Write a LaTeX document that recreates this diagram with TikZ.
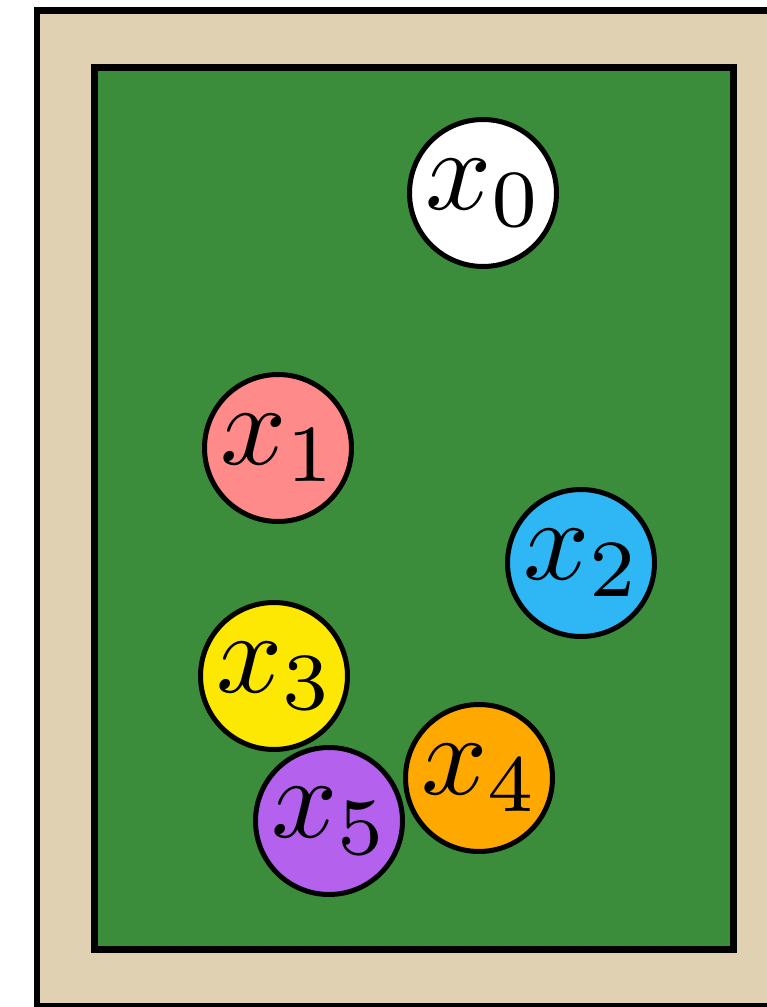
\documentclass[tikz,border=0pt]{standalone}
\usepackage{graphicx}
\usepackage{tikz}
\usepackage{xcolor}
\definecolor{Table_Rail}{HTML}{E0D1B3}
\definecolor{Table_Felt}{HTML}{3B8C3B}
\definecolor{Ball_Pink}{HTML}{FF8A8A}
\definecolor{Ball_Blue}{HTML}{2EB6F5}
\definecolor{Ball_Yellow}{HTML}{FCE802}
\definecolor{Ball_Orange}{HTML}{FFA800}
\definecolor{Ball_Purple}{HTML}{B462EE}
\newcommand{\balltext}[1]{\hspace{0.06cm}\scalebox{6.6}{$x_{#1}$}}

\begin{document}
\begin{tikzpicture}[x=0.02cm, y=-0.02cm,
  frame/.style={draw=black, line width=0.14cm, fill=#1},
  ball/.style={circle, draw=black, line width=0.1cm, fill=#1,
    minimum size=2.94cm, inner sep=0pt},
  ball/.default={white}
]
  \useasboundingbox (0,0) rectangle (767,1007);
  \clip (0,0) rectangle (767,1007);

  % Rail and felt
  \draw[frame=Table_Rail] (37,11) rectangle (790,1006.5);
  \draw[frame=Table_Felt] (94,68) rectangle (733.5,949.5);

  % Balls
  \node[ball] (b0) at (483,193) {\balltext{0}};
  \node[ball=Ball_Pink] (b1) at (278,448) {\balltext{1}};
  \node[ball=Ball_Blue] (b2) at (581,563) {\balltext{2}};
  \node[ball=Ball_Yellow] (b3) at (274,676) {\balltext{3}};
  \node[ball=Ball_Orange] (b4) at (479,778) {\balltext{4}};
  \node[ball=Ball_Purple] (b5) at (329,821) {\balltext{5}};
\end{tikzpicture}
\end{document}
